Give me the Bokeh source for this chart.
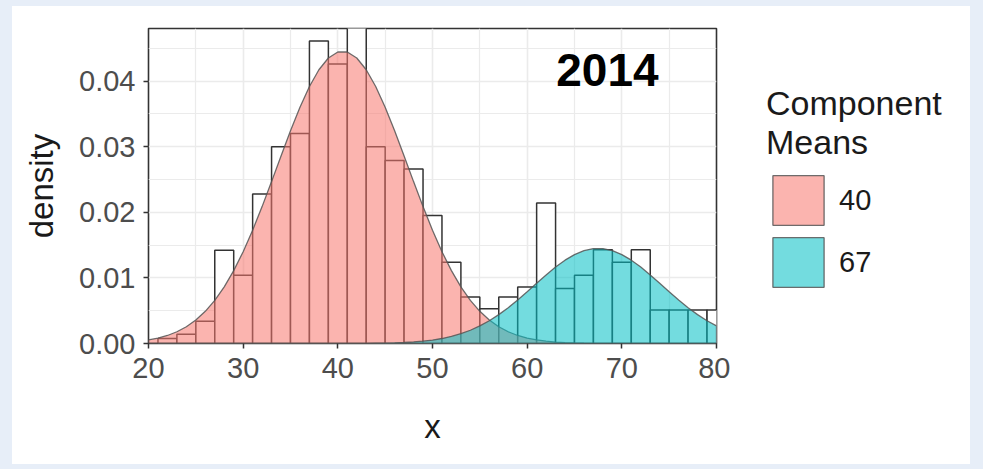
from bokeh.plotting import figure
from bokeh.models import FixedTicker, PrintfTickFormatter, Label, Legend, LegendItem, Range1d
from bokeh.layouts import row, column
from bokeh.embed import file_html
from bokeh.resources import INLINE

# ---- data ----
bin_left = [21, 23, 25, 27, 29, 31, 33, 35, 37, 39, 41, 43, 45, 47, 49,
            51, 53, 55, 57, 59, 61, 63, 65, 67, 69, 71, 73, 75, 77, 79]
bin_density = [0.00076, 0.0014, 0.0034, 0.0142, 0.0104, 0.0228, 0.0300, 0.0320,
               0.0461, 0.0426, 0.0500, 0.0300, 0.0279, 0.0266, 0.0195,
               0.0124, 0.0071, 0.0053, 0.0071, 0.0086, 0.0214, 0.0084, 0.0104,
               0.0143, 0.0124, 0.0143, 0.0051, 0.0051, 0.0051, 0.0051]
bin_width = 2

curve_x = list(range(20, 81))
comp40 = [0.00054, 0.00082, 0.00122, 0.00179, 0.00255, 0.00357, 0.00490, 0.00657,
          0.00863, 0.01111, 0.01399, 0.01726, 0.02086, 0.02467, 0.02858, 0.03242,
          0.03601, 0.03916, 0.04171, 0.04350, 0.04442, 0.04442, 0.04350, 0.04171,
          0.03916, 0.03601, 0.03242, 0.02858, 0.02467, 0.02086, 0.01726, 0.01399,
          0.01111, 0.00863, 0.00657, 0.00490, 0.00357, 0.00255, 0.00179, 0.00122,
          0.00082, 0.00054, 0.00035, 0.00022, 0.00013, 0.00008, 0.00005, 0.00003,
          0.00002, 0.00001, 0, 0, 0, 0, 0, 0, 0, 0, 0, 0, 0]
comp67 = [0, 0, 0, 0, 0, 0, 0, 0, 0, 0, 0, 0, 0, 0, 0, 0, 0, 0, 0, 0, 0, 0, 0, 0,
          0.00004, 0.00006, 0.00010, 0.00015, 0.00024, 0.00036, 0.00053, 0.00076,
          0.00108, 0.00149, 0.00202, 0.00268, 0.00347, 0.00440, 0.00546, 0.00664,
          0.00789, 0.00918, 0.01045, 0.01165, 0.01270, 0.01355, 0.01415, 0.01446,
          0.01446, 0.01415, 0.01355, 0.01270, 0.01165, 0.01045, 0.00918, 0.00789,
          0.00664, 0.00546, 0.00440, 0.00347, 0.00268]
component_labels = ["40", "67"]
component_colors = ["#F8766D", "#00BFC4"]
legend_title = "Component\nMeans"
x_ticks = [20, 30, 40, 50, 60, 70, 80]
x_minor = [25, 35, 45, 55, 65, 75]
y_ticks = [0.0, 0.01, 0.02, 0.03, 0.04]
y_minor = [0.005, 0.015, 0.025, 0.035, 0.045]
panel_label = "2014"

FONT = "Liberation Sans"
CARD = "white"
BACK = "#E7EEF8"

p = figure(width=718, height=458, output_backend="svg", toolbar_location=None,
           x_range=Range1d(20, 80), y_range=Range1d(0, 0.048),
           min_border_left=136, min_border_right=14, min_border_top=22,
           min_border_bottom=121, border_fill_color=CARD,
           background_fill_color="white", outline_line_color="#333333",
           outline_line_width=1.6)

# grid
for g, maj, mnr in ((p.xgrid, x_ticks, x_minor), (p.ygrid, y_ticks, y_minor)):
    g.ticker = FixedTicker(ticks=maj, minor_ticks=mnr)
    g.grid_line_color = "#EBEBEB"
    g.grid_line_width = 1.6
    g.minor_grid_line_color = "#EBEBEB"
    g.minor_grid_line_width = 1.2

p.xaxis.ticker = FixedTicker(ticks=x_ticks, minor_ticks=x_minor)
p.yaxis.ticker = FixedTicker(ticks=y_ticks, minor_ticks=y_minor)
p.yaxis.formatter = PrintfTickFormatter(format="%.2f")
for ax in (p.xaxis, p.yaxis):
    ax.axis_line_color = None
    ax.minor_tick_line_color = None
    ax.major_tick_line_color = "#333333"
    ax.major_tick_line_width = 1.5
    ax.major_tick_out = 5
    ax.major_tick_in = 0
    ax.major_label_text_font = FONT
    ax.major_label_text_font_size = "29px"
    ax.major_label_text_color = "#4D4D4D"
    ax.axis_label_text_font = FONT
    ax.axis_label_text_font_size = "33px"
    ax.axis_label_text_font_style = "normal"
    ax.axis_label_text_color = "#1A1A1A"
p.xaxis.axis_label = "x"
p.yaxis.axis_label = "density"
p.xaxis.major_label_standoff = 9
p.yaxis.major_label_standoff = 8
p.xaxis.axis_label_standoff = 27
p.yaxis.axis_label_standoff = 16

# histogram
bin_right = [b + bin_width for b in bin_left]
p.quad(left=bin_left, right=bin_right, bottom=0, top=bin_density,
       fill_color="white", line_color="#333333", line_width=1.5)

# component densities
comps = (comp40, comp67)
patch_style = dict(fill_alpha=0.55, line_color="#555555", line_alpha=0.85, line_width=1.3)
for ys, col in zip(comps, component_colors):
    p.patch(x=curve_x + [80, 20], y=ys + [0, 0], fill_color=col, **patch_style)

p.add_layout(Label(x=68.48, y=0.04164, text=panel_label, text_font=FONT,
                   text_font_size="46px", text_font_style="bold", text_color="black",
                   text_align="center", text_baseline="alphabetic"))

# legend panel (separate figure to the right; its ranges keep the copies of the
# component areas out of view so only the legend keys show)
q = figure(width=240, height=458, output_backend="svg", toolbar_location=None,
           x_range=Range1d(0, 1), y_range=Range1d(0, 1), x_axis_type=None,
           y_axis_type=None, min_border=0, border_fill_color=CARD,
           background_fill_color=CARD, outline_line_color=None)
q.xgrid.visible = False
q.ygrid.visible = False
leg_renderers = []
for ys, col in zip(comps, component_colors):
    leg_renderers.append(q.patch(x=curve_x + [80, 20], y=ys + [0, 0], fill_color=col,
                                 **patch_style))

legend = Legend(items=[LegendItem(label=lab, renderers=[r])
                       for lab, r in zip(component_labels, leg_renderers)],
                location=(36, 50), title=legend_title, title_text_font=FONT,
                title_text_font_size="34px", title_text_font_style="normal",
                title_text_color="#1A1A1A", title_standoff=7,
                glyph_width=64, glyph_height=62, spacing=0,
                padding=0, margin=0, label_standoff=9,
                label_text_font=FONT, label_text_font_size="29px",
                label_text_color="#1A1A1A", border_line_color=None,
                background_fill_alpha=0)
q.add_layout(legend)

card = row(p, q, styles={"background-color": CARD})
card.margin = (6, 13, 5, 12)
lay = column(card, width=983, height=469, styles={"background-color": BACK})
open("out.html", "w").write(file_html(lay, INLINE))
